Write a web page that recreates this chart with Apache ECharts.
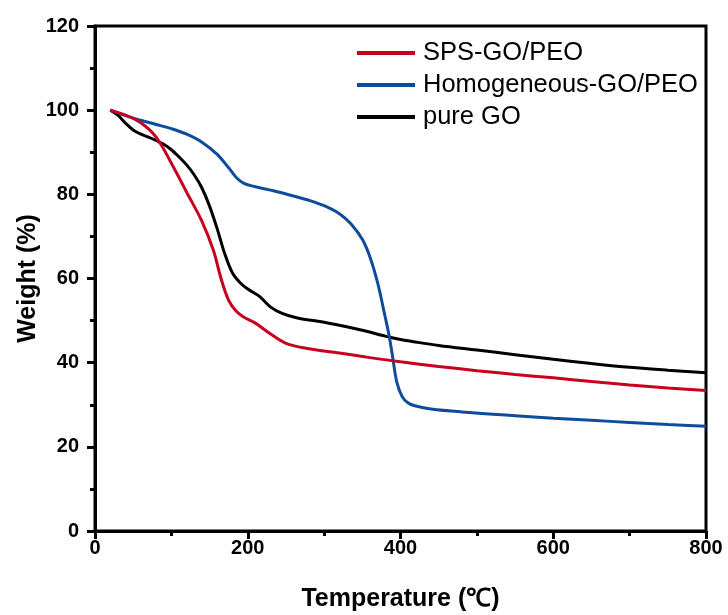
<!DOCTYPE html>
<html>
<head>
<meta charset="utf-8">
<script src="https://cdn.jsdelivr.net/npm/echarts@6/dist/echarts.min.js"></script>
<style>
  html, body { margin: 0; padding: 0; background: #fff; }
  #chart { width: 728px; height: 615px; }
</style>
</head>
<body>
<div id="chart"></div>
<script>
// TGA curves: temperature (°C) vs remaining weight (%)
const spsTemp   = [20, 40, 60, 80, 100, 120, 140, 155, 165, 175, 185, 195, 210, 230, 250, 280, 320, 360, 400, 450, 500, 550, 600, 650, 700, 750, 800];
const spsWeight = [100, 98.8, 97.0, 93.6, 87.4, 80.5, 73.6, 66.7, 60.0, 54.8, 52.2, 50.8, 49.4, 46.8, 44.6, 43.3, 42.3, 41.2, 40.2, 39.1, 38.1, 37.2, 36.4, 35.5, 34.7, 34.0, 33.4];

const homoTemp   = [20, 40, 60, 80, 100, 120, 140, 160, 175, 185, 195, 210, 235, 260, 280, 300, 320, 335, 350, 360, 370, 378, 385, 390, 395, 402, 410, 420, 440, 480, 550, 600, 650, 700, 750, 800];
const homoWeight = [100, 98.7, 97.6, 96.6, 95.6, 94.3, 92.4, 89.5, 86.3, 84.0, 82.6, 81.8, 80.8, 79.6, 78.6, 77.3, 75.4, 73.0, 69.3, 65.1, 59.0, 52.5, 46.5, 41.0, 35.5, 32.0, 30.4, 29.7, 29.0, 28.3, 27.4, 26.8, 26.3, 25.8, 25.3, 24.9];

const goTemp   = [20, 30, 40, 50, 60, 70, 80, 90, 100, 110, 120, 130, 140, 150, 160, 170, 180, 190, 200, 215, 230, 245, 265, 290, 320, 350, 380, 400, 420, 450, 500, 550, 600, 650, 700, 750, 800];
const goWeight = [100, 98.8, 96.9, 95.3, 94.3, 93.6, 92.8, 91.9, 90.6, 88.9, 87.0, 84.6, 81.5, 77.2, 71.8, 65.8, 61.3, 59.0, 57.5, 55.8, 53.2, 51.7, 50.6, 49.9, 48.9, 47.7, 46.3, 45.5, 44.9, 44.1, 43.0, 41.9, 40.8, 39.8, 38.9, 38.2, 37.6];

const seriesNames = ['SPS-GO/PEO', 'Homogeneous-GO/PEO', 'pure GO'];
const seriesColors = ['#C8001E', '#0D4C9A', '#000000'];

function pairs(xs, ys) { return xs.map((x, i) => [x, ys[i]]); }

const chart = echarts.init(document.getElementById('chart'), null, { renderer: 'canvas' });

const FONT = 'Liberation Sans, Arial, sans-serif';
const axisFont = { fontFamily: FONT, fontWeight: 'bold', fontSize: 20, color: '#000' };
const titleFont = { fontFamily: FONT, fontWeight: 'bold', fontSize: 25, color: '#000' };

function axisCommon() {
  return {
    axisLine: { show: true, lineStyle: { color: '#000', width: 3 } },
    axisTick: { show: true, inside: false, length: 8, lineStyle: { color: '#000', width: 3 } },
    minorTick: { show: true, splitNumber: 2, length: 5, lineStyle: { color: '#000', width: 3 } },
    splitLine: { show: false }
  };
}

chart.setOption({
  animation: false,
  backgroundColor: '#fff',
  grid: {
    left: 95, right: 22, top: 26, bottom: 84,
    outerBoundsMode: 'none',
    show: true, borderColor: '#000', borderWidth: 3, backgroundColor: 'transparent'
  },
  legend: {
    orient: 'vertical',
    left: 357,
    top: 39,
    padding: 0,
    itemWidth: 58,
    itemHeight: 4,
    itemGap: 4,
    icon: 'rect',
    textStyle: { fontFamily: FONT, fontSize: 25.5, lineHeight: 28, color: '#000', padding: [0, 0, 0, 3] },
    data: seriesNames
  },
  xAxis: Object.assign(axisCommon(), {
    type: 'value', min: 0, max: 800, interval: 200,
    name: 'Temperature (℃)', nameLocation: 'middle', nameGap: 56,
    nameMoveOverlap: false,
    nameTextStyle: titleFont,
    axisLabel: Object.assign({ margin: 7 }, axisFont)
  }),
  yAxis: Object.assign(axisCommon(), {
    type: 'value', min: 0, max: 120, interval: 20,
    name: 'Weight (%)', nameLocation: 'middle', nameGap: 54, nameRotate: 90,
    nameMoveOverlap: false,
    nameTextStyle: titleFont,
    axisLabel: Object.assign({ margin: 16 }, axisFont)
  }),
  series: [
    { name: seriesNames[0], type: 'line', data: pairs(spsTemp, spsWeight) },
    { name: seriesNames[1], type: 'line', data: pairs(homoTemp, homoWeight) },
    { name: seriesNames[2], type: 'line', data: pairs(goTemp, goWeight) }
  ].map((s, i) => Object.assign(s, {
    smooth: 0.35,
    symbol: 'none',
    color: seriesColors[i],
    lineStyle: { color: seriesColors[i], width: 3 },
    z: 3 - i
  }))
});
</script>
</body>
</html>
